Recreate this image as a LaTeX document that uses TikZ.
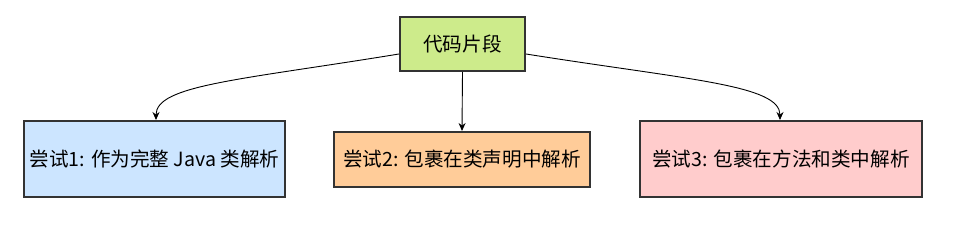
\documentclass[tikz,border=0pt]{standalone}
\usepackage{fontspec}
\setmainfont{Noto Sans CJK SC}
\usetikzlibrary{arrows.meta}
\definecolor{cgreen}{HTML}{CDEB8B}
\definecolor{cblue}{HTML}{CCE5FF}
\definecolor{corange}{HTML}{FFCC99}
\definecolor{cpink}{HTML}{FFCCCC}
\definecolor{cborder}{HTML}{333333}
\tikzset{
  boxnode/.style={draw=cborder, line width=2pt, inner sep=0pt, font=\fontsize{19.6}{23}\selectfont, text=black},
  conn/.style={line width=0.9pt, draw=black, -{Stealth[length=8pt,width=7pt]}}
}
\begin{document}
\begin{tikzpicture}[x=1pt,y=-1pt]
\useasboundingbox[fill=white] (0,0) rectangle (962,248);
\node[boxnode, fill=cgreen, minimum width=125pt, minimum height=54pt] (top) at (462.5,44) {代码片段};
\node[boxnode, fill=cblue, minimum width=261pt, minimum height=76pt] (a) at (154.5,159) {尝试1: 作为完整 Java 类解析};
\node[boxnode, fill=corange, minimum width=256pt, minimum height=55pt] (b) at (462,159.5) {尝试2: 包裹在类声明中解析};
\node[boxnode, fill=cpink, minimum width=282pt, minimum height=76pt] (c) at (781,159) {尝试3: 包裹在方法和类中解析};
\coordinate (tl) at ([yshift=-10pt]top.west);
\coordinate (tr) at ([yshift=-10pt]top.east);
\draw[conn] (tl) .. controls (240,80) and (156,85) .. (a.north -| 156,0);
\draw[conn] (top.south) -- (b.north);
\draw[conn] (tr) .. controls (690,80) and (780,85) .. (c.north -| 780,0);
\end{tikzpicture}
\end{document}
